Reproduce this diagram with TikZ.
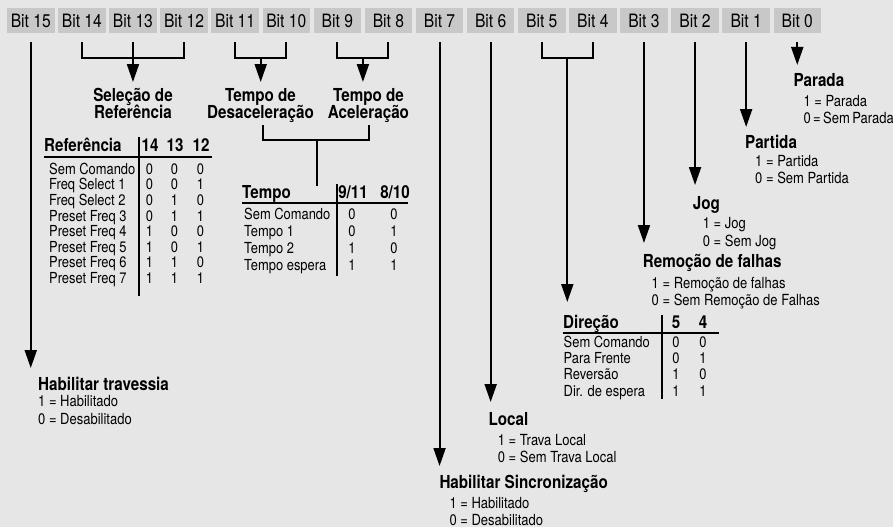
\documentclass[tikz,border=0pt]{standalone}
\usepackage{fontspec}
\setmainfont[FakeStretch=0.85]{TeX Gyre Heros}
\usetikzlibrary{arrows.meta,calc}
\definecolor{bg}{RGB}{230,230,230}
\definecolor{boxgray}{RGB}{200,200,200}
\newcommand\fbit{\fontsize{18.4}{20}\selectfont}
\newcommand\fhead{\fontsize{17.9}{18}\selectfont\bfseries}
\newcommand\fval{\fontsize{15.3}{16}\selectfont}
\newcommand\ftab{\fontsize{15.2}{16}\selectfont}
\newcommand\fthead{\fontsize{17.8}{18}\selectfont\bfseries}
\newcommand\tightsp{\spaceskip=0.16em plus 0.05em\relax}
\begin{document}
\begin{tikzpicture}[x=1pt,y=-1pt,
  bitbox/.style={fill=boxgray,minimum width=47.5pt,minimum height=25pt,inner sep=0pt,font=\fbit},
  lbl/.style={anchor=base west,inner sep=0pt},
  head/.style={lbl,font=\fhead},
  val/.style={lbl,font=\fval},
  ctr/.style={anchor=base,inner sep=0pt,font=\fhead},
  trow/.style={lbl,font=\ftab},
  tval/.style={anchor=base,inner sep=0pt,font=\ftab},
  thead/.style={lbl,font=\fthead},
  thcol/.style={anchor=base,inner sep=0pt,font=\fthead},
  ln/.style={line width=2pt},
  arr/.style={line width=2pt,-{Triangle[length=18pt,width=12pt]}},
]
\fill[bg] (0,0) rectangle (893,527);
\useasboundingbox (0,0) rectangle (893,527);

% bit boxes
\foreach \n [count=\i from 0] in {15,14,...,0} {
  \node[bitbox] (b\n) at ({30.75+51.1*\i},20.5) {Bit \n};
  \coordinate (s\n) at ([yshift=-9pt]b\n.south);
  \coordinate (k\n) at ([yshift=-25pt]b\n.south);
}

% brackets
\draw[ln] (s14) -- (k14) -- (k12) -- (s12);
\coordinate (t13) at (b13 |- 0,82);
\draw[arr] (s13) -- (t13);

\draw[ln] (s11) -- (k11) -- (k10) -- (s10);
\coordinate (m1110) at ($(k11)!.5!(k10)$);
\coordinate (t1110) at (m1110 |- 0,82);
\draw[arr] (m1110) -- (t1110);

\draw[ln] (s9) -- (k9) -- (k8) -- (s8);
\coordinate (m98) at ($(k9)!.5!(k8)$);
\coordinate (t98) at (m98 |- 0,82);
\draw[arr] (m98) -- (t98);

\draw[ln] (s5) -- (k5) -- (k4) -- (s4);
\coordinate (m54) at ($(k5)!.5!(k4)$);
\coordinate (t54) at (m54 |- 0,302);
\draw[arr] (m54) -- (t54);

\foreach \n/\ty in {15/368,7/466,6/402,3/243,2/185,1/127,0/65} {
  \coordinate (t\n) at (b\n |- 0,\ty);
  \draw[arr] (s\n) -- (t\n);
}

% group labels
\node[ctr] (sel1) at (133,101.7) {Seleção de};
\node[ctr] (sel2) at (133,118.3) {Referência};
\node[ctr] (des1) at (260.5,101.7) {Tempo de};
\node[ctr] (des2) at (260.5,118.3) {Desaceleração};
\node[ctr] (ace1) at (368.5,101.7) {Tempo de};
\node[ctr] (ace2) at (368.5,118.3) {Aceleração};

% tempo bracket
\coordinate (d1) at (263,125);
\coordinate (d2) at (263,140);
\coordinate (a1) at (369,125);
\coordinate (a2) at (369,140);
\coordinate (dm) at (317,140);
\coordinate (de) at (317,186);
\draw[ln] (d1) -- (d2) -- (a2) -- (a1);
\draw[ln] (dm) -- (de);

% Referencia table
\node[thead] (refh) at (44,151.7) {Referência};
\node[thcol] (refc14) at (150,151.7) {14};
\node[thcol] (refc13) at (175,151.7) {13};
\node[thcol] (refc12) at (201,151.7) {12};
\draw[ln] (139,137) -- (139,296);
\draw[ln] (44,157) -- (212,157);
\foreach \t/\a/\b/\c [count=\k from 0] in {Sem Comando/0/0/0,Freq Select 1/0/0/1,Freq Select 2/0/1/0,Preset Freq 3/0/1/1,Preset Freq 4/1/0/0,Preset Freq 5/1/0/1,Preset Freq 6/1/1/0,Preset Freq 7/1/1/1} {
  \node[trow] (rt\k) at (49,{174.3+15.57*\k}) {\t};
  \node[tval] (ra\k) at (149.5,{174.3+15.57*\k}) {\a};
  \node[tval] (rb\k) at (174.5,{174.3+15.57*\k}) {\b};
  \node[tval] (rc\k) at (200.5,{174.3+15.57*\k}) {\c};
}

% Tempo table
\node[thead] (temh) at (242,198.3) {Tempo};
\node[thcol] (temc1) at (353,198.3) {9/11};
\node[thcol] (temc2) at (395,198.3) {8/10};
\draw[ln] (337,184) -- (337,276);
\draw[ln] (242,203) -- (408,203);
\foreach \t/\a/\b [count=\k from 0] in {Sem Comando/0/0,Tempo 1/0/1,Tempo 2/1/0,Tempo espera/1/1} {
  \node[trow] (tt\k) at (244,{219.3+17.13*\k}) {\t};
  \node[tval] (ta\k) at (352,{219.3+17.13*\k}) {\a};
  \node[tval] (tb\k) at (394,{219.3+17.13*\k}) {\b};
}

% Direcao table
\node[thead] (dirh) at (563,328.3) {Direção};
\node[thcol] (dirc5) at (676,328.3) {5};
\node[thcol] (dirc4) at (703,328.3) {4};
\draw[ln] (662,315) -- (662,399);
\draw[ln] (563,333) -- (719,333);
\foreach \t/\a/\b [count=\k from 0] in {Sem Comando/0/0,Para Frente/0/1,Reversão/1/0,Dir. de espera/1/1} {
  \node[trow] (dt\k) at (563.5,{347.7+16.1*\k}) {\t};
  \node[tval] (da\k) at (676,{347.7+16.1*\k}) {\a};
  \node[tval] (db\k) at (703,{347.7+16.1*\k}) {\b};
}

% bit labels
\node[head] (trav) at (38,390.5) {Habilitar travessia};
\node[val] (trav1) at (38,406.7) {1 = Habilitado};
\node[val] (trav0) at (38,424.5) {0 = Desabilitado};

\node[head] (sinc) at (439.3,488.3) {Habilitar Sincronização};
\node[val] (sinc1) at (449.3,508.3) {1 = Habilitado};
\node[val] (sinc0) at (449.3,525) {0 = Desabilitado};

\node[head] (loc) at (488.3,425.7) {Local};
\node[val] (loc1) at (497.7,445) {1 = Trava Local};
\node[val] (loc0) at (497.7,462.3) {0 = Sem Trava Local};

\node[head] (rem) at (642.7,267.3) {Remoção de falhas};
\node[val] (rem1) at (651.5,288) {1 = Remoção de falhas};
\node[val] (rem0) at (651.5,305) {0 = Sem Remoção de Falhas};

\node[head] (jog) at (692.7,209) {Jog};
\node[val] (jog1) at (702.7,228.3) {1 = Jog};
\node[val] (jog0) at (702.7,246) {0 = Sem Jog};

\node[head] (part) at (745,148.3) {Partida};
\node[val] (part1) at (755,166) {1 = Partida};
\node[val] (part0) at (755,183.3) {0 = Sem Partida};

\node[head] (par) at (793.3,86.7) {Parada};
\node[val] (par1) at (803.3,106.7) {1 = Parada};
\node[val] (par0) at (803.3,123.3) {\tightsp 0 = Sem Parada};
\end{tikzpicture}
\end{document}
